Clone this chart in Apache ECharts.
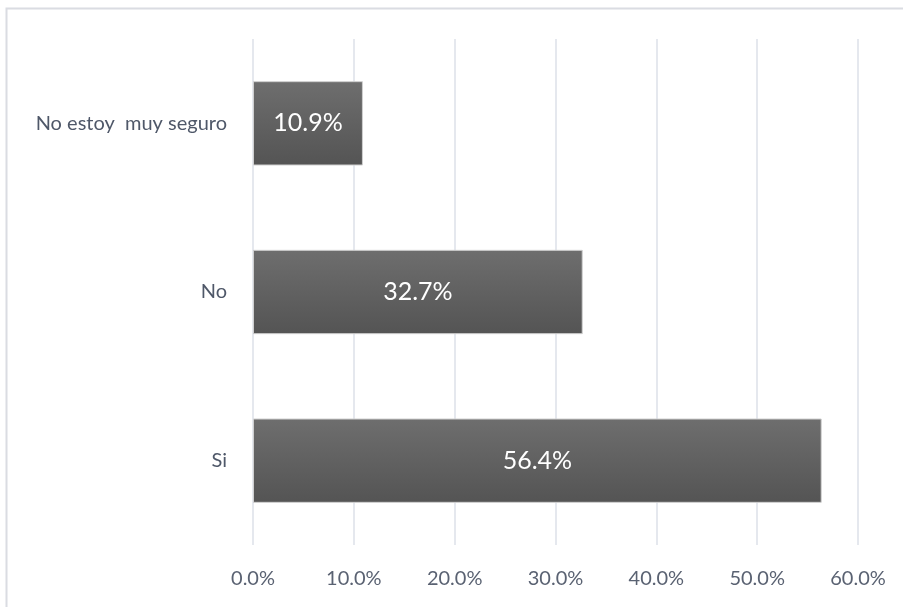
<!DOCTYPE html>
<html>
<head>
<meta charset="utf-8">
<script src="https://cdn.jsdelivr.net/npm/echarts@6/dist/echarts.min.js"></script>
<style>
  html, body { margin: 0; padding: 0; background: #ffffff; }
  #chart { width: 903px; height: 607px; }
</style>
</head>
<body>
<div id="chart"></div>
<script>
// Survey answers, listed bottom to top on the category axis
const categories = ['Si', 'No', 'No estoy  muy seguro'];
const percentages = [56.4, 32.7, 10.9];
const axisTicks = [0, 10, 20, 30, 40, 50, 60];

const chart = echarts.init(document.getElementById('chart'));
const fontFamily = 'Lato, "Open Sans", sans-serif';

chart.setOption({
  animation: false,
  backgroundColor: '#ffffff',
  graphic: [{
    type: 'rect',
    shape: { x: 6.5, y: 8.5, width: 1000, height: 1000 },
    style: { fill: 'none', stroke: '#dadce2', lineWidth: 2 },
    silent: true
  }],
  grid: { left: 253, right: 45, top: 39, bottom: 62, containLabel: false },
  xAxis: {
    type: 'value',
    min: axisTicks[0],
    max: axisTicks[axisTicks.length - 1],
    interval: axisTicks[1] - axisTicks[0],
    axisLine: { show: false },
    axisTick: { show: false },
    splitLine: { lineStyle: { color: '#dde0e8', width: 1.5 } },
    axisLabel: {
      margin: 24,
      fontSize: 20,
      color: '#5a6272',
      fontFamily: fontFamily
    ,
      formatter: v => v.toFixed(1) + '%'
    }
  },
  yAxis: {
    type: 'category',
    data: categories,
    axisLine: { show: false },
    axisTick: { show: false },
    splitLine: { show: false },
    axisLabel: {
      margin: 26,
      fontSize: 20,
      color: '#4f5869',
      fontFamily: fontFamily
    }
  },
  series: [{
    type: 'bar',
    data: percentages,
    barWidth: '50%',
    itemStyle: {
      color: new echarts.graphic.LinearGradient(0, 0, 0, 1, [
        { offset: 0, color: '#6e6e6e' },
        { offset: 1, color: '#545454' }
      ]),
      borderColor: '#cfcfcf',
      borderWidth: 1
    },
    label: {
      show: true,
      position: 'inside',
      color: '#ffffff',
      fontSize: 25,
      fontFamily: fontFamily,
      formatter: p => p.value.toFixed(1) + '%'
    }
  }]
});
</script>
</body>
</html>
